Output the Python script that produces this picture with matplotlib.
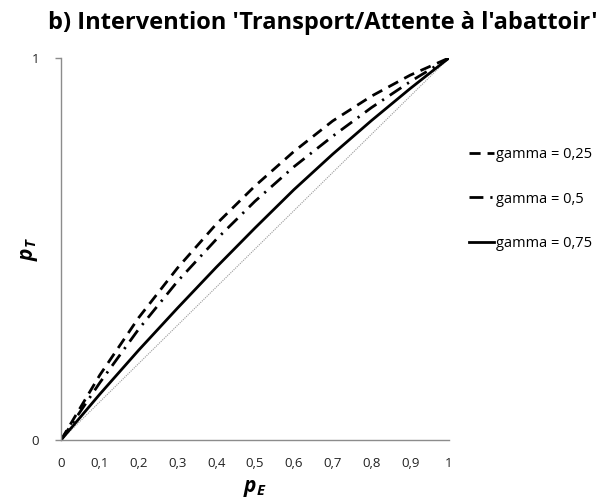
import matplotlib
matplotlib.use("Agg")
import matplotlib.pyplot as plt

# Probability of the event p_E and resulting p_T for three gamma values
p_e = [0.0, 0.1, 0.2, 0.3, 0.4, 0.5, 0.6, 0.7, 0.8, 0.9, 1.0]
p_t_gamma_025 = [0.0, 0.17, 0.32, 0.45, 0.565, 0.665, 0.755, 0.835, 0.90, 0.955, 1.0]
p_t_gamma_05 = [0.0, 0.15, 0.29, 0.415, 0.525, 0.625, 0.715, 0.795, 0.87, 0.938, 1.0]
p_t_gamma_075 = [0.0, 0.12, 0.235, 0.345, 0.452, 0.555, 0.655, 0.748, 0.836, 0.92, 1.0]
diagonal = [0.0, 1.0]

x_ticks = [0.0, 0.1, 0.2, 0.3, 0.4, 0.5, 0.6, 0.7, 0.8, 0.9, 1.0]
x_tick_labels = ["0", "0,1", "0,2", "0,3", "0,4", "0,5", "0,6", "0,7", "0,8", "0,9", "1"]
y_ticks = [0.0, 1.0]
y_tick_labels = ["0", "1"]

series_labels = ["gamma = 0,25", "gamma = 0,5", "gamma = 0,75"]

plt.rcParams["font.family"] = ["Open Sans", "DejaVu Sans"]
plt.rcParams["mathtext.fontset"] = "custom"
plt.rcParams["mathtext.it"] = "Open Sans:bold:italic"
plt.rcParams["mathtext.rm"] = "Open Sans:bold:italic"

fig = plt.figure(figsize=(6.09, 5.04), dpi=100)
ax = fig.add_axes([0.1002, 0.127, 0.6371, 0.758])

ax.plot(diagonal, diagonal, color="#9a9a9a", lw=0.8, ls=(0, (1, 1)), zorder=1)
l1, = ax.plot(p_e, p_t_gamma_025, color="black", lw=2.0, ls=(0, (4, 2.5)))
l2, = ax.plot(p_e, p_t_gamma_05, color="black", lw=2.0, ls=(0, (5, 2.5, 0.8, 2.5)))
l3, = ax.plot(p_e, p_t_gamma_075, color="black", lw=2.0, ls="-")

ax.set_xlim(0, 1)
ax.set_ylim(0, 1)
ax.set_xticks(x_ticks)
ax.set_xticklabels(x_tick_labels)
ax.set_yticks(y_ticks)
ax.set_yticklabels(y_tick_labels)

for side in ("top", "right"):
    ax.spines[side].set_visible(False)
for side in ("left", "bottom"):
    ax.spines[side].set_color("#8c8c8c")
    ax.spines[side].set_linewidth(1.0)

ax.tick_params(axis="x", length=0, pad=12, labelsize=9.5, colors="#222222")
ax.tick_params(axis="y", length=4, width=1.0, color="#8c8c8c", pad=12,
               labelsize=9.5, labelcolor="#222222")

ax.text(-0.08, 0.5, r"$p_T$", transform=ax.transAxes, rotation=90,
        fontsize=15, ha="center", va="center")
ax.text(0.5, -0.128, r"$p_E$", transform=ax.transAxes,
        fontsize=15, ha="center", va="center")

fig.text(0.53, 0.955, "b) Intervention 'Transport/Attente à l'abattoir'",
         ha="center", va="center", fontsize=17.0, fontweight="bold")

fig.legend([l1, l2, l3], series_labels, loc="center left",
           bbox_to_anchor=(0.748, 0.605), frameon=False, fontsize=10.5,
           handlelength=1.75, handletextpad=0.1, labelspacing=2.0)

fig.savefig("out.png", dpi=100)
